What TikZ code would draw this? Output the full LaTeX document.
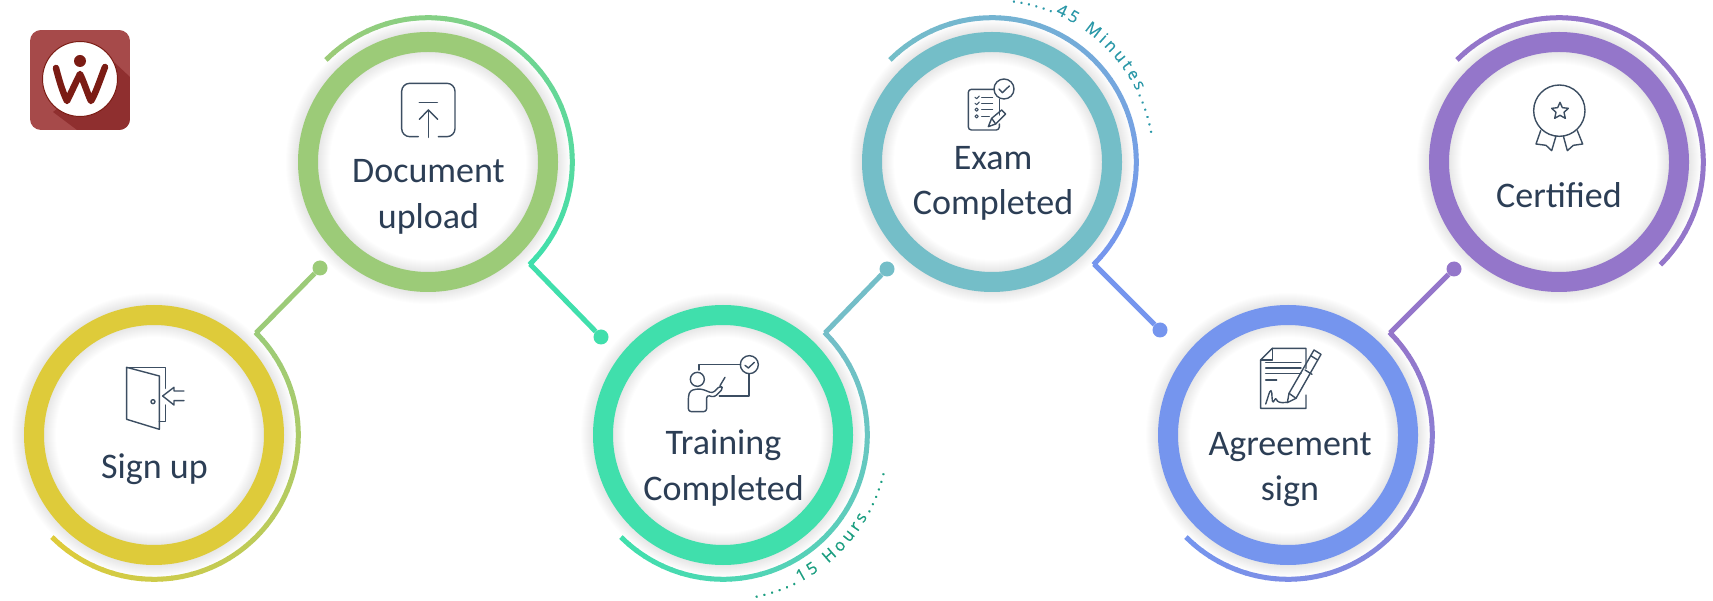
\documentclass[tikz,border=0pt]{standalone}
\usepackage{fontspec}
\setmainfont{Carlito}
\newfontfamily\curvefont[FakeBold=0.35]{Open Sans}
\usetikzlibrary{decorations.text,calc}
\definecolor{cA}{HTML}{DECB3A}
\definecolor{cB}{HTML}{9CCB78}
\definecolor{cC}{HTML}{40DFAC}
\definecolor{cD}{HTML}{74BEC8}
\definecolor{cE}{HTML}{7595EE}
\definecolor{cF}{HTML}{9476CA}
\definecolor{inkc}{HTML}{2C3E55}
\definecolor{iconc}{HTML}{3C4E62}
\definecolor{logoa}{HTML}{A64A4A}
\definecolor{logob}{HTML}{8F2F2F}
\definecolor{logoc}{HTML}{7B1C14}
\definecolor{curveA}{HTML}{1A9E80}
\definecolor{curveB}{HTML}{2A98A8}
\tikzset{
  ringnode/.style={circle,draw=#1,line width=20pt,minimum size=240pt,inner sep=0pt},
  dotnode/.style={circle,fill=#1,minimum size=15pt,inner sep=0pt},
  connector/.style={draw=#1,line width=5pt,line join=miter},
  steplabel/.style={text=inkc,font=\fontsize{36}{45.5}\selectfont,align=center,inner sep=0pt},
  iconline/.style={draw=iconc,line width=1.4pt,line join=round,line cap=round},
  zoomgrid/.style 2 args={shift={(#1,600-#2)},x=0.3333pt,y=-0.3333pt},
}
% name, cx, cy, colour, next colour, start angle, sweep sign
\newcommand{\stepcircle}[7]{%
  \foreach \g in {1,...,12}{
    \draw[black,opacity=0.006,line width=2*\g pt] (#2,#3) circle[radius=130];
    \draw[black,opacity=0.006,line width=2*\g pt] (#2,#3) circle[radius=110];
  }
  \node[ringnode=#4] (#1) at (#2,#3) {};
  \foreach \i in {0,...,44}{
    \pgfmathsetmacro\pp{100-\i*100/44}
    \pgfmathsetmacro\aa{#6+\i*4*#7}
    \pgfmathsetmacro\dd{4.4*#7}
    \draw[line width=5pt,color=#4!\pp!#5] ([shift={(\aa:144.3)}]#1.center) arc[start angle=\aa,delta angle=\dd,radius=144.3];
  }
  \coordinate (#1end) at ([shift={(#6+180*#7:144.3)}]#1.center);
}
\begin{document}
\begin{tikzpicture}[x=1pt,y=1pt]
\useasboundingbox (0,0) rectangle (1713,600);
\fill[white] (0,0) rectangle (1713,600);

% logo
\begin{scope}
\clip[rounded corners=11pt] (30,470) rectangle (130,570);
\fill[logoa] (30,470) rectangle (130,570);
\fill[logob] (115,537) -- (130,523) -- (130,470) -- (77,470) -- (53,488) -- cycle;
\end{scope}
\node[circle,fill=white,draw=logoc,line width=1pt,minimum size=75pt,inner sep=0pt] (logocircle) at (80,521) {};
\draw[logoc,line width=6.5pt,line join=round,line cap=round] (56,532) .. controls (60,516) and (64,505) .. (67,499) .. controls (70,505) and (76,518) .. (80,526) .. controls (84,518) and (88,505) .. (91,499) .. controls (95,505) and (100,520) .. (105,533);
\node[circle,fill=logoc,minimum size=12pt,inner sep=0pt] (logodot) at (80,539) {};

% rings
\stepcircle{s1}{154}{165}{cA}{cB}{225}{1}
\stepcircle{s2}{428}{438}{cB}{cC}{135}{-1}
\stepcircle{s3}{723}{165}{cC}{cD}{225}{1}
\stepcircle{s4}{992}{438}{cD}{cE}{135}{-1}
\stepcircle{s5}{1288}{165}{cE}{cF}{225}{1}
\stepcircle{s6}{1559}{438}{cF}{cF}{135}{-1}

% dots and connectors
\node[dotnode=cB] (d1) at (320,332) {};
\node[dotnode=cC] (d2) at (601,263) {};
\node[dotnode=cD] (d3) at (887,331) {};
\node[dotnode=cE] (d4) at (1160,270) {};
\node[dotnode=cF] (d5) at (1454,331) {};
\draw[connector=cB] (s1end) -- (d1);
\draw[connector=cC] (s2end) -- (d2);
\draw[connector=cD] (s3end) -- (d3);
\draw[connector=cE] (s4end) -- (d4);
\draw[connector=cF] (s5end) -- (d5);

% labels
\node[steplabel] (t1) at (154.5,131) {Sign up};
\node[steplabel] (t2) at (428.5,403) {Document\\upload};
\node[steplabel] (t3) at (723.5,132) {Training\\Completed};
\node[steplabel] (t4) at (993,416.5) {Exam\\Completed};
\node[steplabel] (t5) at (1290,130.5) {Agreement\\sign};
\node[steplabel] (t6) at (1559,405) {Certified};

% curved notes
\coordinate (n3a) at ([shift={(-79:166)}]s3.center);
\coordinate (n4a) at ([shift={(83:161)}]s4.center);
\path[decorate,decoration={text along path,text align={fit to path},
  text={|\curvefont\fontsize{16.5}{16.5}\selectfont\color{curveA}|......15 Hours......}}]
  (n3a) arc[start angle=-79,end angle=-13,radius=166];
\path[decorate,decoration={text along path,text align={fit to path},
  text={|\curvefont\fontsize{16.5}{16.5}\selectfont\color{curveB}|......45 Minutes......}}]
  (n4a) arc[start angle=83,end angle=10,radius=161];

% icon: door
\begin{scope}[zoomgrid={0}{290}]
\draw[iconline] (478,258) -- (380,232) -- (380,388) -- (478,418) -- (478,258);
\draw[iconline] (380,232) -- (497,232) -- (497,295);
\draw[iconline] (497,345) -- (497,395) -- (478,395);
\draw[iconline] (459,335) circle[radius=6];
\draw[iconline] (552,303) -- (522,303) -- (522,292) -- (488,318) -- (522,345) -- (522,332) -- (552,332);
\end{scope}
% icon: upload
\begin{scope}[zoomgrid={370}{60}]
\draw[iconline,rounded corners=8pt] (145,230) -- (95,230) -- (95,70) -- (255,70) -- (255,230) -- (205,230);
\draw[iconline] (148,128) -- (202,128);
\draw[iconline] (175,232) -- (175,150);
\draw[iconline] (148,178) -- (175,150) -- (203,178);
\end{scope}
% icon: training
\begin{scope}[zoomgrid={660}{340}]
\draw[iconline] (112,118) circle[radius=21];
\draw[iconline,rounded corners=3pt] (85,215) -- (85,170) -- (90,152) -- (110,147) -- (125,147) -- (158,160) -- (180,137) -- (190,145) -- (163,172) -- (140,165) -- (140,215) -- cycle;
\draw[iconline] (180,137) -- (195,112);
\draw[iconline] (117,90) -- (117,73) -- (242,73);
\draw[iconline] (268,74) circle[radius=27];
\draw[iconline] (267,101) -- (267,168) -- (178,168);
\draw[iconline] (255,76) -- (265,84) -- (283,67);
\end{scope}
% icon: exam
\begin{scope}[zoomgrid={950}{0}]
\draw[iconline,rounded corners=3pt] (132,268) -- (55,268) -- (55,390) -- (148,390) -- (148,372);
\draw[iconline] (148,298) -- (148,345);
\draw[iconline] (162,267) circle[radius=30];
\draw[iconline] (147,267) -- (157,278) -- (178,258);
\draw[iconline,line width=1pt] (75,292) -- (80,296) -- (88,288);
\draw[iconline,line width=1pt] (75,310) -- (80,314) -- (88,306);
\draw[iconline,line width=1pt] (80,329) circle[radius=5];
\draw[iconline,line width=1pt] (80,349) circle[radius=5];
\draw[iconline,line width=1pt] (95,292) -- (128,292);
\draw[iconline,line width=1pt] (95,310) -- (128,310);
\draw[iconline,line width=1pt] (95,329) -- (128,329);
\draw[iconline,line width=1pt] (95,349) -- (118,349);
\draw[iconline] (115,380) -- (125,355) -- (155,330) -- (167,342) -- (137,372) -- cycle;
\draw[iconline] (125,355) -- (137,372);
\end{scope}
% icon: agreement
\begin{scope}[zoomgrid={1240}{340}]
\draw[iconline] (198,85) -- (198,25) -- (97,25) -- (62,60) -- (62,205) -- (198,205) -- (198,165);
\draw[iconline] (97,25) -- (97,60) -- (62,60);
\draw[iconline] (77,68) -- (183,68);
\draw[iconline] (77,84) -- (183,84);
\draw[iconline] (77,100) -- (183,100);
\draw[iconline] (77,120) -- (110,120);
\draw[iconline] (77,192) .. controls (84,175) and (88,150) .. (93,152) .. controls (98,155) and (94,190) .. (100,186) .. controls (104,182) and (106,172) .. (109,178) .. controls (112,186) and (120,190) .. (140,187);
\draw[iconline] (142,188) -- (147,160) -- (222,30) -- (243,43) -- (168,175) -- cycle;
\draw[iconline] (147,160) -- (168,175);
\draw[iconline] (212,47) -- (233,60);
\draw[iconline] (195,90) -- (216,103);
\end{scope}
% icon: certified
\begin{scope}[zoomgrid={1500}{70}]
\draw[iconline] (178,122) circle[radius=77];
\draw[iconline] (180,97) -- (187,113) -- (205,115) -- (192,127) -- (196,145) -- (180,136) -- (164,145) -- (168,127) -- (155,115) -- (173,113) -- cycle;
\draw[iconline] (122,182) -- (108,222) -- (138,226) -- (155,242) -- (168,198);
\draw[iconline] (190,198) -- (202,242) -- (220,226) -- (248,222) -- (232,182);
\end{scope}
\end{tikzpicture}
\end{document}
